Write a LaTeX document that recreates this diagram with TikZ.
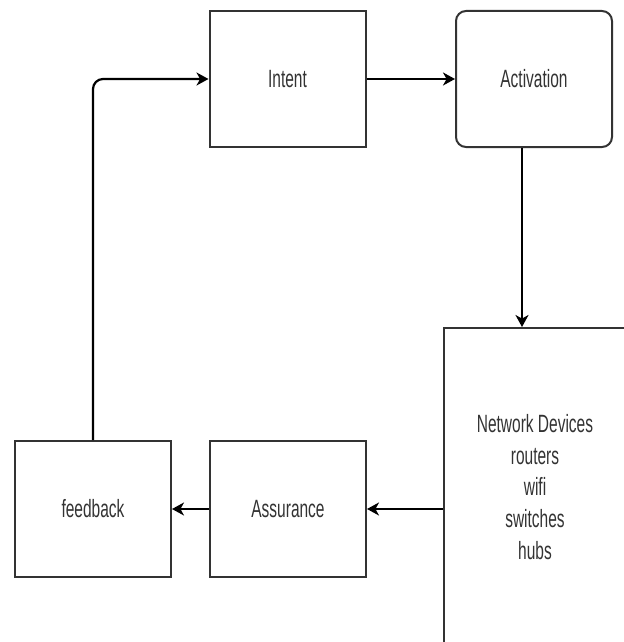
\documentclass[tikz,border=0pt]{standalone}
\usepackage{fontspec}
\setmainfont{Liberation Sans}[FakeStretch=0.62]
\usetikzlibrary{positioning, arrows.meta}

\tikzset{
  block/.style={draw=black!80, line width=1pt, minimum width=78pt, minimum height=68pt, inner sep=0pt,
    text=black!80, align=center, font=\fontsize{12.5}{15.8}\selectfont},
  flow/.style={-{Stealth[length=6pt, width=6.5pt, inset=1.8pt]}, line width=1.1pt, black},
}

\begin{document}
\begin{tikzpicture}[x=0.5pt, y=-0.5pt]
      \useasboundingbox (0,0) rectangle (624,642);
      \clip (0,0) rectangle (624,642);
      \node[block] (intent) at (287.5,79) {Intent};
      \node[block, rounded corners=5pt] (act) at (534,79) {Activation};
      \node[block, minimum width=91pt, minimum height=159pt] (net) at (535,487)
        {Network Devices\\routers\\wifi\\switches\\hubs};
      \node[block] (assure) at (288,509) {Assurance};
      \node[block] (fb) at (93,509) {feedback};
      \coordinate (drop) at (522,200);

      \path (intent) edge[flow] (act);
      \path (act.south -| drop) edge[flow] (net.north -| drop);
      \path (net.west |- assure) edge[flow] (assure);
      \path (assure) edge[flow] (fb);
      \draw[flow, rounded corners=5pt] (fb.north) |- (intent.west);
    \end{tikzpicture}
\end{document}
